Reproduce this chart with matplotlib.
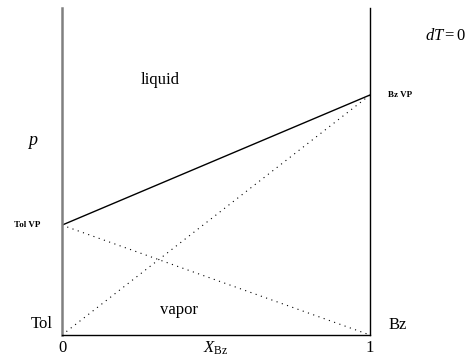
import matplotlib
matplotlib.use("Agg")
import matplotlib.pyplot as plt

# -----------------------
# DATA
# -----------------------
x_ends = [0, 1]
p_tol_vp = 0.336   # vapour pressure of pure toluene (relative)
p_bz_vp = 0.734    # vapour pressure of pure benzene (relative)
total_p = [p_tol_vp, p_bz_vp]
partial_tol = [p_tol_vp, 0]
partial_bz = [0, p_bz_vp]

plt.rcParams["font.family"] = ["Liberation Serif", "DejaVu Serif"]
plt.rcParams["mathtext.fontset"] = "custom"
plt.rcParams["mathtext.rm"] = "Liberation Serif"
plt.rcParams["mathtext.it"] = "Liberation Serif:italic"

fig = plt.figure(figsize=(4.76, 3.56), dpi=100)
ax = fig.add_axes([62 / 476, 21 / 356, 308 / 476, 327 / 356])

ax.plot(x_ends, total_p, color="black", lw=1)
ax.plot(x_ends, partial_tol, color="black", lw=0.8, linestyle=(0, (1, 4)))
ax.plot(x_ends, partial_bz, color="black", lw=0.8, linestyle=(0, (1, 4)))

ax.set_xlim(0, 1)
ax.set_ylim(0, 1)
ax.set_xticks([])
ax.set_yticks([])
ax.spines["top"].set_visible(False)
ax.spines["left"].set_color("#808080")
ax.spines["left"].set_linewidth(1.8)
ax.spines["right"].set_linewidth(1)
ax.spines["bottom"].set_linewidth(1)

# labels
ax.text(0, -0.015, "0", ha="center", va="top", fontsize=12)
ax.text(1, -0.015, "1", ha="center", va="top", fontsize=12)
ax.text(0.5, -0.015, r"$X_{\rm Bz}$", ha="center", va="top", fontsize=12)
ax.text(0.32, 0.78, "liquid", ha="center", va="center", fontsize=12)
ax.text(0.38, 0.075, "vapor", ha="center", va="center", fontsize=12)
ax.text(-0.095, 0.59, r"$p$", ha="center", va="center", fontsize=13)
ax.text(-0.07, p_tol_vp, "Tol VP", ha="right", va="center", fontsize=6.5, fontweight="bold")
ax.text(1.06, p_bz_vp, "Bz VP", ha="left", va="center", fontsize=6.5, fontweight="bold")
ax.text(-0.03, 0.035, "Tol", ha="right", va="center", fontsize=12)
ax.text(1.06, 0.03, "Bz", ha="left", va="center", fontsize=12)
ax.text(1.245, 0.915, r"$dT = 0$", ha="center", va="center", fontsize=12)

fig.savefig("out.png", dpi=100)
